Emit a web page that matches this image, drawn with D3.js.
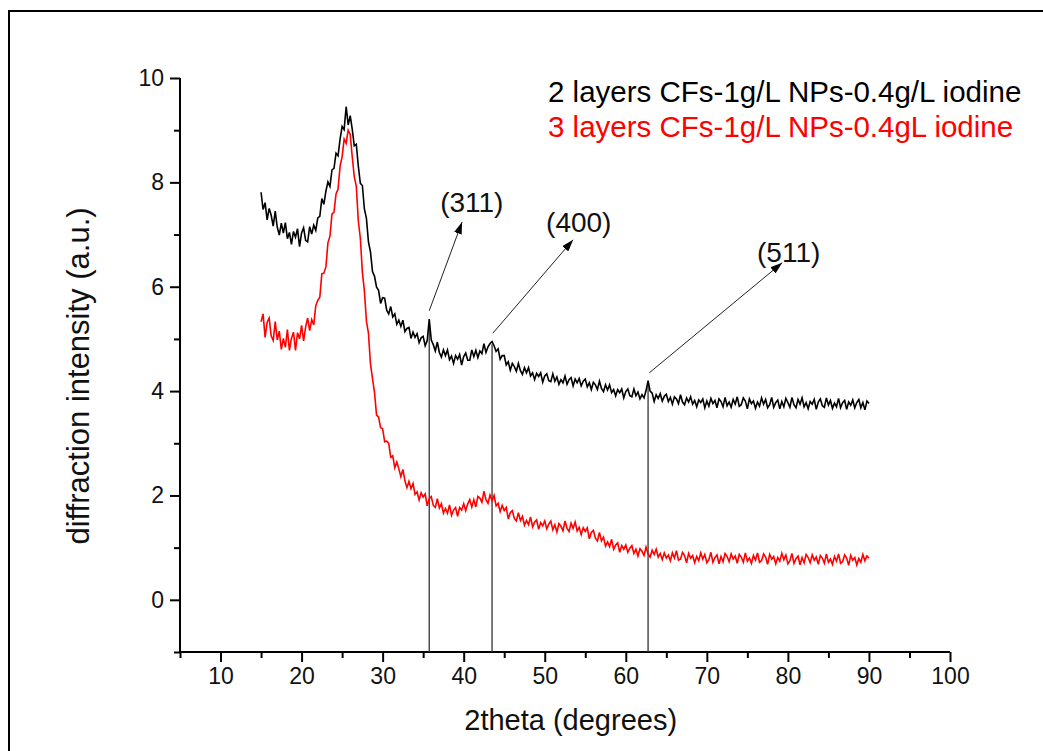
<!DOCTYPE html>
<html>
<head>
<meta charset="utf-8">
<script src="https://cdn.jsdelivr.net/npm/d3@7"></script>
<style>
  body { margin: 0; background: #fff; }
  svg { display: block; font-family: Arial, "Liberation Sans", sans-serif; }
</style>
</head>
<body>
<svg id="chart" width="1043" height="751"></svg>
<script>
const width = 1043;
const height = 751;

// scan: 15 to 90 degrees, 0.25 degree step
const scanStart = 15;
const scanStep = 0.25;

// 2 layers CFs (black)
const twoLayers = [
  7.81, 7.48, 7.61, 7.28, 7.50, 7.37, 7.16, 7.45, 7.14, 6.99, 7.22, 7.03,
  7.23, 6.92, 7.04, 6.81, 7.06, 6.95, 7.11, 6.77, 7.03, 7.13, 6.89, 6.86,
  7.15, 7.01, 7.18, 7.08, 7.32, 7.35, 7.69, 7.58, 7.83, 8.01, 7.92, 8.24,
  8.27, 8.56, 8.51, 8.83, 9.07, 9.01, 9.45, 9.10, 9.28, 9.02, 8.70, 8.73,
  8.31, 7.98, 7.94, 7.49, 7.31, 6.86, 6.67, 6.29, 6.20, 5.99, 5.93, 5.68,
  5.79, 5.78, 5.55, 5.48, 5.62, 5.42, 5.48, 5.28, 5.36, 5.24, 5.36, 5.14,
  5.20, 5.22, 5.01, 5.13, 5.03, 5.10, 4.93, 5.02, 5.05, 4.87, 4.97, 5.38,
  4.98, 4.89, 4.77, 4.94, 4.74, 4.65, 4.79, 4.68, 4.79, 4.60, 4.67, 4.53,
  4.68, 4.61, 4.70, 4.50, 4.66, 4.73, 4.59, 4.59, 4.79, 4.66, 4.78, 4.64,
  4.77, 4.72, 4.91, 4.74, 4.85, 4.91, 4.95, 4.87, 4.76, 4.81, 4.61, 4.68,
  4.68, 4.50, 4.56, 4.40, 4.53, 4.47, 4.38, 4.53, 4.39, 4.32, 4.45, 4.35,
  4.45, 4.29, 4.35, 4.22, 4.34, 4.28, 4.35, 4.17, 4.29, 4.33, 4.20, 4.18,
  4.33, 4.19, 4.27, 4.13, 4.22, 4.16, 4.29, 4.13, 4.22, 4.26, 4.10, 4.23,
  4.16, 4.24, 4.10, 4.19, 4.23, 4.08, 4.16, 4.03, 4.17, 4.12, 4.03, 4.19,
  4.05, 3.99, 4.12, 4.02, 4.12, 3.97, 4.03, 3.91, 4.03, 3.97, 4.04, 3.87,
  3.99, 4.04, 3.91, 3.89, 4.04, 3.91, 3.98, 3.85, 3.93, 3.87, 4.01, 4.20,
  4.00, 3.96, 3.80, 3.93, 3.86, 3.95, 3.81, 3.90, 3.94, 3.80, 3.88, 3.75,
  3.89, 3.85, 3.76, 3.93, 3.79, 3.74, 3.87, 3.79, 3.89, 3.75, 3.82, 3.70,
  3.83, 3.78, 3.85, 3.68, 3.81, 3.71, 3.86, 3.76, 3.82, 3.68, 3.85, 3.80,
  3.70, 3.88, 3.72, 3.79, 3.69, 3.84, 3.75, 3.89, 3.71, 3.74, 3.87, 3.81,
  3.66, 3.85, 3.76, 3.81, 3.67, 3.79, 3.71, 3.87, 3.75, 3.84, 3.68, 3.74,
  3.88, 3.69, 3.78, 3.83, 3.66, 3.80, 3.70, 3.86, 3.78, 3.69, 3.88, 3.74,
  3.68, 3.84, 3.75, 3.87, 3.70, 3.78, 3.66, 3.80, 3.75, 3.84, 3.65, 3.79,
  3.85, 3.72, 3.69, 3.87, 3.73, 3.82, 3.67, 3.77, 3.70, 3.86, 3.68, 3.78,
  3.82, 3.65, 3.79, 3.73, 3.83, 3.68, 3.78, 3.84, 3.68, 3.78, 3.64, 3.81,
  3.76
];

// 3 layers CFs (red)
const threeLayers = [
  5.33, 5.48, 5.03, 5.32, 5.40, 5.06, 4.97, 5.33, 4.98, 5.15, 4.80, 5.01,
  4.84, 5.18, 4.78, 5.01, 5.13, 4.78, 5.12, 5.00, 5.26, 4.96, 5.23, 5.40,
  5.16, 5.37, 5.27, 5.63, 5.74, 5.80, 6.25, 6.26, 6.38, 6.84, 6.97, 7.39,
  7.43, 7.78, 7.87, 8.31, 8.49, 8.83, 8.75, 9.00, 8.92, 8.49, 8.11, 7.93,
  7.26, 6.93, 6.28, 5.92, 5.34, 5.11, 4.52, 4.24, 3.97, 3.54, 3.50, 3.30,
  3.28, 3.03, 3.04, 3.00, 2.73, 2.76, 2.53, 2.64, 2.51, 2.36, 2.50, 2.28,
  2.15, 2.27, 2.13, 2.23, 2.02, 2.07, 1.91, 2.05, 1.97, 2.03, 1.80, 1.94,
  1.98, 1.81, 1.77, 1.94, 1.76, 1.84, 1.66, 1.75, 1.66, 1.82, 1.62, 1.72,
  1.77, 1.60, 1.77, 1.72, 1.84, 1.71, 1.84, 1.92, 1.78, 1.92, 1.78, 1.98,
  1.95, 1.87, 2.08, 1.92, 1.85, 2.01, 1.90, 2.00, 1.80, 1.85, 1.69, 1.81,
  1.71, 1.77, 1.55, 1.67, 1.71, 1.56, 1.51, 1.67, 1.52, 1.60, 1.43, 1.52,
  1.44, 1.59, 1.40, 1.49, 1.53, 1.35, 1.48, 1.42, 1.51, 1.36, 1.45, 1.51,
  1.34, 1.44, 1.30, 1.46, 1.41, 1.32, 1.51, 1.37, 1.31, 1.47, 1.37, 1.49,
  1.32, 1.39, 1.25, 1.38, 1.31, 1.38, 1.17, 1.29, 1.33, 1.18, 1.13, 1.29,
  1.13, 1.20, 1.03, 1.11, 1.02, 1.16, 0.97, 1.05, 1.09, 0.91, 1.04, 0.97,
  1.05, 0.91, 0.99, 1.04, 0.89, 0.97, 0.84, 0.98, 0.93, 0.85, 1.01, 0.88,
  0.82, 0.95, 0.87, 0.97, 0.82, 0.89, 0.77, 0.90, 0.80, 0.86, 0.75, 0.90,
  0.80, 0.94, 0.76, 0.78, 0.91, 0.85, 0.71, 0.89, 0.80, 0.85, 0.71, 0.83,
  0.75, 0.90, 0.78, 0.87, 0.71, 0.77, 0.91, 0.72, 0.81, 0.86, 0.69, 0.83,
  0.73, 0.89, 0.83, 0.73, 0.88, 0.78, 0.84, 0.70, 0.87, 0.82, 0.72, 0.90,
  0.74, 0.80, 0.70, 0.85, 0.76, 0.90, 0.72, 0.75, 0.88, 0.82, 0.68, 0.87,
  0.78, 0.83, 0.69, 0.81, 0.74, 0.89, 0.77, 0.86, 0.69, 0.75, 0.89, 0.70,
  0.79, 0.84, 0.67, 0.81, 0.71, 0.87, 0.81, 0.71, 0.86, 0.76, 0.82, 0.68,
  0.85, 0.80, 0.70, 0.88, 0.72, 0.78, 0.68, 0.83, 0.74, 0.88, 0.70, 0.73,
  0.86, 0.80, 0.66, 0.85, 0.76, 0.81, 0.67, 0.79, 0.72, 0.87, 0.75, 0.84,
  0.80
];

const seriesNames = [
  "2 layers CFs-1g/L NPs-0.4g/L iodine",
  "3 layers CFs-1g/L NPs-0.4gL iodine"
];
const seriesColors = ["#000000", "#ff0000"];

const xMajorTicks = [10, 20, 30, 40, 50, 60, 70, 80, 90, 100];
const xMinorTicks = [5, 15, 25, 35, 45, 55, 65, 75, 85, 95];
const yMajorTicks = [0, 2, 4, 6, 8, 10];
const yMinorTicks = [-1, 1, 3, 5, 7, 9];

// peak markers (in data units)
const peakLabels = ["(311)", "(400)", "(511)"];
const peakPos = [35.75, 43.5, 62.75];
const peakTop = [5.3, 4.9, 4.15];
const arrowFrom = [[35.75, 5.54], [43.6, 5.11], [62.9, 4.35]];
const arrowTo = [[39.8, 7.24], [53.5, 6.9], [79.3, 6.46]];
const labelAt = [[41.0, 7.43], [54.2, 7.05], [80.1, 6.48]];

const margin = { top: 78, right: 93, bottom: 99, left: 180 };
const innerW = width - margin.left - margin.right;
const innerH = height - margin.top - margin.bottom;

const svg = d3.select("#chart");

// outer frame (only left and top edges are visible)
svg.append("path")
    .attr("d", `M9,${height} V11 H${width}`)
    .attr("fill", "none")
    .attr("stroke", "#000")
    .attr("stroke-width", 2);

svg.append("defs").append("marker")
    .attr("id", "arrow")
    .attr("viewBox", "0 0 12 8")
    .attr("refX", 12)
    .attr("refY", 4)
    .attr("markerWidth", 12)
    .attr("markerHeight", 8)
    .attr("markerUnits", "userSpaceOnUse")
    .attr("orient", "auto")
    .append("path")
    .attr("d", "M0,0 L12,4 L0,8 Z")
    .attr("fill", "#000");

const g = svg.append("g")
    .attr("transform", `translate(${margin.left},${margin.top})`);

const x = d3.scaleLinear().domain([5, 100]).range([0, innerW]);
const y = d3.scaleLinear().domain([-1, 10]).range([innerH, 0]);

// axes
const xAxis = g.append("g")
    .attr("transform", `translate(0,${innerH})`)
    .call(d3.axisBottom(x).tickValues(xMajorTicks).tickSize(10).tickPadding(6));
g.append("g")
    .attr("transform", `translate(0,${innerH})`)
    .call(d3.axisBottom(x).tickValues(xMinorTicks).tickSize(6).tickFormat(""))
    .call(a => a.select(".domain").remove());

const yAxis = g.append("g")
    .call(d3.axisLeft(y).tickValues(yMajorTicks).tickSize(10).tickPadding(6));
g.append("g")
    .call(d3.axisLeft(y).tickValues(yMinorTicks).tickSize(6).tickFormat(""))
    .call(a => a.select(".domain").remove());

g.selectAll(".domain").attr("stroke-width", 2).attr("stroke", "#000");
g.selectAll(".tick line").attr("stroke-width", 2).attr("stroke", "#000");
g.selectAll(".tick text")
    .attr("font-size", 23)
    .attr("font-family", "Arial, 'Liberation Sans', sans-serif")
    .attr("fill", "#111");
xAxis.selectAll(".domain").attr("d", `M0,0H${innerW}`);
yAxis.selectAll(".domain").attr("d", `M0,${innerH}V0`);

// axis titles
svg.append("text")
    .attr("x", margin.left + x(53.2))
    .attr("y", 730)
    .attr("text-anchor", "middle")
    .attr("font-size", 29)
    .attr("fill", "#111")
    .text("2theta (degrees)");

svg.append("text")
    .attr("transform", `translate(89,376) rotate(-90)`)
    .attr("text-anchor", "middle")
    .attr("font-size", 31)
    .attr("fill", "#111")
    .text("diffraction intensity (a.u.)");

// drop lines from peaks to the x axis
g.selectAll(".drop")
    .data(peakPos)
    .join("line")
    .attr("class", "drop")
    .attr("x1", d => x(d))
    .attr("x2", d => x(d))
    .attr("y1", (d, i) => y(peakTop[i]))
    .attr("y2", y(-1))
    .attr("stroke", "#333")
    .attr("stroke-width", 1.3);

// spectra (drawn a bit heavy so the noise reads as a band)
const line = d3.line()
    .x((d, i) => x(scanStart + i * scanStep))
    .y(d => y(d));

[twoLayers, threeLayers].forEach((vals, k) => {
    g.append("path")
        .datum(vals)
        .attr("fill", "none")
        .attr("stroke", seriesColors[k])
        .attr("stroke-width", 1.6)
        .attr("stroke-linejoin", "miter")
        .attr("d", line);
});

// arrows and miller indices
g.selectAll(".arrow")
    .data(peakLabels)
    .join("line")
    .attr("class", "arrow")
    .attr("x1", (d, i) => x(arrowFrom[i][0]))
    .attr("y1", (d, i) => y(arrowFrom[i][1]))
    .attr("x2", (d, i) => x(arrowTo[i][0]))
    .attr("y2", (d, i) => y(arrowTo[i][1]))
    .attr("stroke", "#222")
    .attr("stroke-width", 1)
    .attr("marker-end", "url(#arrow)");

g.selectAll(".peak-label")
    .data(peakLabels)
    .join("text")
    .attr("class", "peak-label")
    .attr("x", (d, i) => x(labelAt[i][0]))
    .attr("y", (d, i) => y(labelAt[i][1]))
    .attr("text-anchor", "middle")
    .attr("font-size", 28)
    .attr("fill", "#111")
    .text(d => d);

// legend (text only)
svg.selectAll(".legend")
    .data(seriesNames)
    .join("text")
    .attr("class", "legend")
    .attr("x", 548)
    .attr("y", (d, i) => 102 + i * 35)
    .attr("font-size", 29.5)
    .attr("fill", (d, i) => seriesColors[i])
    .text(d => d);
</script>
</body>
</html>
